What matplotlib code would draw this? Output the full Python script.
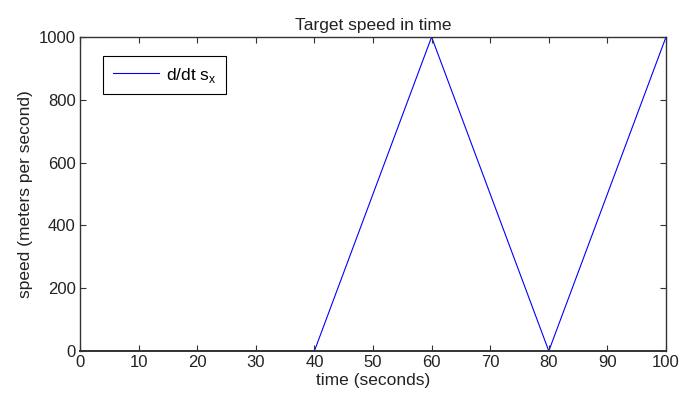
import matplotlib
matplotlib.use("Agg")
import matplotlib.pyplot as plt

plt.rcParams['font.family'] = ['Liberation Sans', 'DejaVu Sans']

time_s = [0, 40, 60, 80, 100]
speed = [0, 0, 1000, 0, 1000]
x_ticks = [0, 10, 20, 30, 40, 50, 60, 70, 80, 90, 100]
y_ticks = [0, 200, 400, 600, 800, 1000]

fig = plt.figure(figsize=(6.81, 4.00), dpi=100)
ax = fig.add_axes([80/681, 49/400, 586/681, 314/400])
ax.plot(time_s, speed, color='#0000ff', lw=0.8, label=r'd/dt s$_\mathregular{x}$', zorder=1)
ax.set_xlim(0, 100)
ax.set_ylim(0, 1000)
ax.set_xticks(x_ticks)
ax.set_yticks(y_ticks)
ax.tick_params(direction='in', top=True, right=True, labelsize=12, length=4, width=0.8, pad=3,
               color='#333333', labelcolor='#222222')
for s in ax.spines.values():
    s.set_linewidth(1.0)
    s.set_color('#333333')
    s.set_zorder(3)
ax.spines['bottom'].set_linewidth(1.4)
ax.set_title('Target speed in time', fontsize=12.5, pad=5, color='#222222')
ax.set_xlabel('time (seconds)', fontsize=12.5, labelpad=2, color='#222222')
ax.set_ylabel('speed (meters per second)', fontsize=12.5, labelpad=4, color='#222222')
leg = ax.legend(loc='upper left', bbox_to_anchor=(23/586, 1 - 19/314), fontsize=12.5, fancybox=False,
                edgecolor='black', framealpha=1, handlelength=2.7, borderpad=0.55,
                handletextpad=0.35, borderaxespad=0)
leg.get_frame().set_linewidth(0.8)
fig.savefig('out.png', dpi=100)
